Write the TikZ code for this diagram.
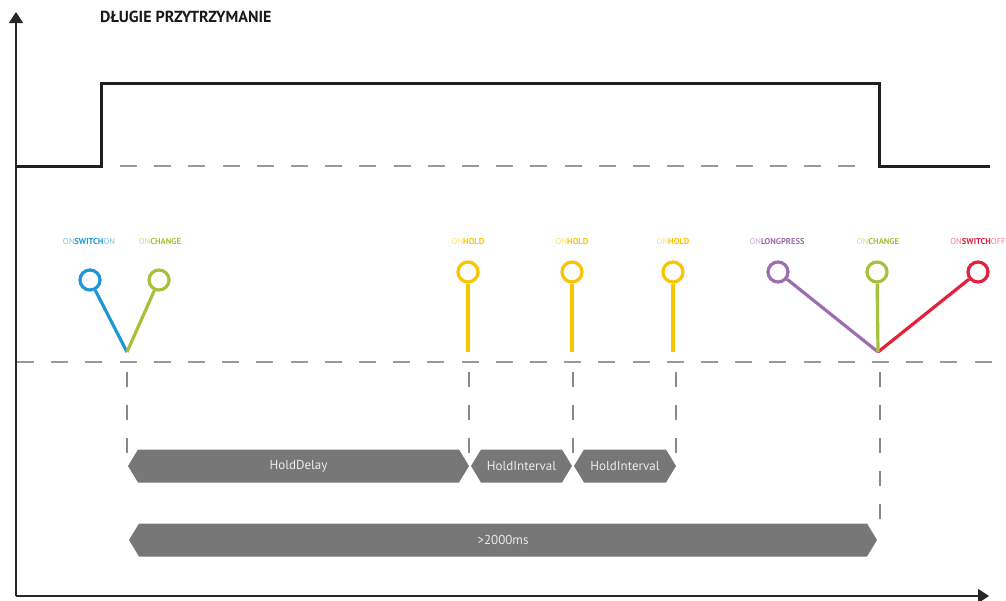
\documentclass[tikz,border=0pt]{standalone}
\usepackage{fontspec}
\setmainfont{PT Sans}
\usetikzlibrary{arrows.meta}
\definecolor{cblue}{HTML}{1F97D4}\definecolor{cbluel}{HTML}{7CC4E8}
\definecolor{cgreen}{HTML}{A5C23A}\definecolor{cgreenl}{HTML}{C9DC8A}
\definecolor{cyel}{HTML}{F8C500}\definecolor{cyell}{HTML}{FBDD78}
\definecolor{cpur}{HTML}{9B6FAE}\definecolor{cpurl}{HTML}{C3AED0}
\definecolor{cred}{HTML}{E3213A}\definecolor{credl}{HTML}{F07C8A}
\definecolor{barfill}{HTML}{777777}
\definecolor{dashgray}{HTML}{9A9A9A}
\definecolor{vdash}{HTML}{8A8A80}
\newcommand\timebar[5]{%
  \fill[barfill] (#2,#4) -- (#2+10,#4-16.5) -- (#3-10,#4-16.5) -- (#3,#4) -- (#3-10,#4+16.5) -- (#2+10,#4+16.5) -- cycle;
  \node[bartext] (#1) at ({(#2+#3)/2},#4) {#5};}
\tikzset{
  axis/.style={line width=1.5, draw=black!85, -{Triangle[width=14,length=11]}},
  sig/.style={line width=3, draw=black!88},
  hdash/.style={line width=2.5, draw=dashgray, dash pattern=on 17 off 17.2},
  vdashed/.style={line width=2, draw=vdash, dash pattern=on 15 off 18},
  pin/.style={circle, draw, line width=3.2, minimum size=20, inner sep=0},
  pinline/.style={line width=3.2},
  lbl/.style={font=\fontsize{8.5}{9}\selectfont, inner sep=0},
  bartext/.style={font=\fontsize{13}{14}\selectfont, text=white!92!black, inner sep=0},
}
\begin{document}
\begin{tikzpicture}[x=1pt,y=-1pt]
\useasboundingbox (0,0) rectangle (1006,600);
% axes
\coordinate (o) at (16,596);
\coordinate (ytop) at (16,12);
\coordinate (xend) at (989,596);
\draw[axis] (o) -- (ytop);
\draw[axis] (o) -- (xend);
\node[font=\bfseries\fontsize{16}{17}\selectfont, anchor=west, inner sep=0, text=black!90] (title) at (100,17) {DŁUGIE PRZYTRZYMANIE};
% signal
\coordinate (s0) at (16,166);
\coordinate (s1) at (101,166);
\coordinate (s2) at (101,83);
\coordinate (s3) at (879,83);
\coordinate (s4) at (879,166);
\coordinate (s5) at (990,166);
\draw[sig] (s0) -- (s1) -- (s2) -- (s3) -- (s4) -- (s5);
% dashed lines
\coordinate (d1a) at (120,166);
\coordinate (d1b) at (866,166);
\draw[hdash] (d1a) -- (d1b);
\coordinate (d2a) at (17,362);
\coordinate (d2b) at (1006,362);
\draw[hdash] (d2a) -- (d2b);
% bases
\coordinate (b1) at (127,352);
\coordinate (b2) at (468,352);
\coordinate (b3) at (572,352);
\coordinate (b4) at (673,352);
\coordinate (b5) at (878,352);
% pins
\node[pin, draw=cblue] (p1) at (90,280) {};
\node[pin, draw=cgreen] (p2) at (159,280) {};
\node[pin, draw=cyel] (p3) at (468,272) {};
\node[pin, draw=cyel] (p4) at (572,272) {};
\node[pin, draw=cyel] (p5) at (673,272) {};
\node[pin, draw=cpur] (p6) at (778,272) {};
\node[pin, draw=cgreen] (p7) at (877,272) {};
\node[pin, draw=cred] (p8) at (978,272) {};
\draw[pinline, cblue] (p1) -- (b1);
\draw[pinline, cgreen] (p2) -- (b1);
\draw[pinline, cyel] (p3) -- (b2);
\draw[pinline, cyel] (p4) -- (b3);
\draw[pinline, cyel] (p5) -- (b4);
\draw[pinline, cpur] (p6) -- (b5);
\draw[pinline, cred] (p8) -- (b5);
\draw[pinline, cgreen] (p7) -- (b5);
% labels
\node[lbl] (l1) at (89,242) {\textcolor{cbluel}{ON}\textcolor{cblue}{\bfseries SWITCH}\textcolor{cbluel}{ON}};
\node[lbl] (l2) at (160,242) {\textcolor{cgreenl}{ON}\textcolor{cgreen}{\bfseries CHANGE}};
\node[lbl] (l3) at (468,242) {\textcolor{cyell}{ON}\textcolor{cyel}{\bfseries HOLD}};
\node[lbl] (l4) at (572,242) {\textcolor{cyell}{ON}\textcolor{cyel}{\bfseries HOLD}};
\node[lbl] (l5) at (673,242) {\textcolor{cyell}{ON}\textcolor{cyel}{\bfseries HOLD}};
\node[lbl] (l6) at (777,242) {\textcolor{cpurl}{ON}\textcolor{cpur}{\bfseries LONGPRESS}};
\node[lbl] (l7) at (878,242) {\textcolor{cgreenl}{ON}\textcolor{cgreen}{\bfseries CHANGE}};
\node[lbl] (l8) at (978,242) {\textcolor{credl}{ON}\textcolor{cred}{\bfseries SWITCH}\textcolor{credl}{OFF}};
% vertical dashed
\coordinate (v1) at (127,372); \coordinate (v1e) at (127,456);
\coordinate (v2) at (469,372); \coordinate (v2e) at (469,456);
\coordinate (v3) at (573,372); \coordinate (v3e) at (573,456);
\coordinate (v4) at (676,372); \coordinate (v4e) at (676,456);
\coordinate (v5) at (880,372); \coordinate (v5e) at (880,524);
\draw[vdashed] (v1) -- (v1e);
\draw[vdashed] (v2) -- (v2e);
\draw[vdashed] (v3) -- (v3e);
\draw[vdashed] (v4) -- (v4e);
\draw[vdashed] (v5) -- (v5e);
% bars
\timebar{hd}{128}{469}{466}{HoldDelay}
\timebar{hi1}{471}{572}{466}{HoldInterval}
\timebar{hi2}{574}{676}{466}{HoldInterval}
\timebar{ms}{129}{877}{540}{>2000ms}
\end{tikzpicture}
\end{document}
